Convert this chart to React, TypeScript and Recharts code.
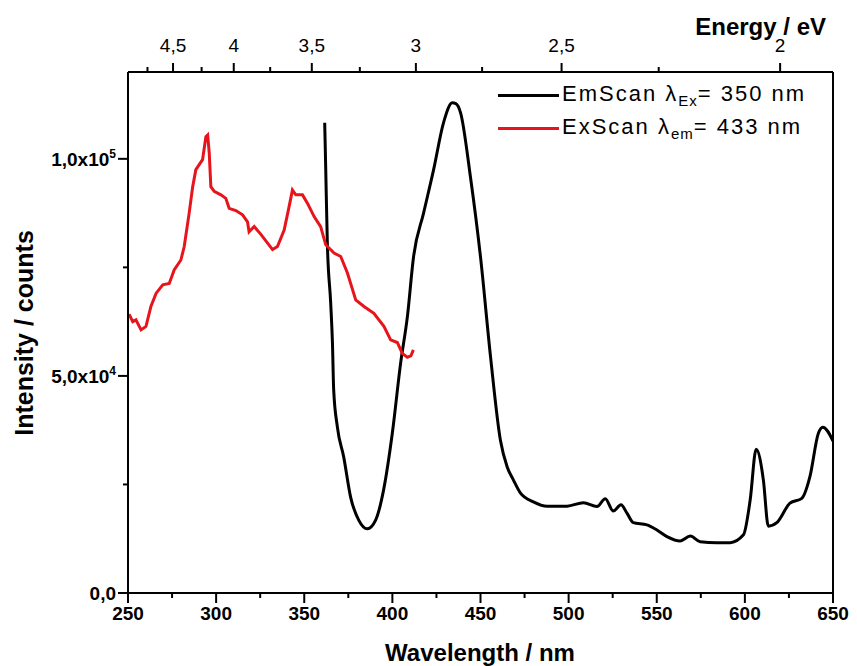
import React from 'react';
import { LineChart, Line, XAxis, YAxis, Legend, ReferenceLine } from 'recharts';

// emission scan (excitation 350 nm)
const emWavelength = [
  361.6, 361.9, 362.2, 363.1, 365.0, 366.0, 366.7, 368.8, 372.4, 376.3, 380.9, 385.8,
  390.5, 395.0, 400.0, 404.7, 408.5, 412.0, 417.7, 423.4, 429.0, 434.0, 436.0, 438.7,
  444.3, 450.0, 455.7, 461.3, 465.1, 468.7, 472.7, 480.0, 487.8, 499.1, 508.4, 516.1,
  520.8, 525.3, 529.7, 533.1, 536.7, 544.4, 550.1, 555.8, 563.3, 569.0, 574.6, 584.1,
  591.6, 599.2, 603.0, 606.4, 610.5, 613.3, 618.1, 625.6, 632.3, 636.9, 641.7, 644.2,
  650.2,
];
const emIntensity = [
  108300, 103000, 97400, 80600, 66800, 57600, 46800, 38200, 31300, 22100, 16800, 14800,
  16800, 23700, 36900, 53000, 63600, 77400, 87500, 97500, 108300, 112900, 112700, 110600,
  95800, 77400, 54400, 35200, 29100, 26000, 23000, 21000, 20000, 20000, 20800, 19900,
  21700, 18900, 20300, 18400, 16200, 15700, 14500, 13000, 12000, 13100, 11800, 11600,
  11600, 13400, 21400, 33100, 26000, 15400, 16200, 20700, 21800, 26800, 36800, 38200,
  34900,
];

// excitation scan (emission 433 nm)
const exWavelength = [
  250.6, 252.7, 254.5, 257.4, 260.2, 263.0, 265.9, 269.7, 273.4, 276.2, 280.0, 281.9,
  284.7, 286.7, 288.5, 292.3, 294.2, 295.2, 296.1, 297.0, 298.9, 302.7, 305.5, 307.4,
  311.2, 315.0, 317.8, 318.7, 321.6, 325.4, 329.2, 332.0, 334.8, 338.6, 341.4, 343.3,
  345.2, 349.0, 351.8, 355.6, 359.3, 362.2, 366.9, 370.7, 374.5, 379.2, 383.9, 389.5,
  395.2, 399.0, 402.8, 405.6, 408.5, 410.5, 411.9,
];
const exIntensity = [
  64200, 62500, 62900, 60600, 61400, 66000, 69000, 71000, 71300, 74400, 76700, 79800,
  87500, 93600, 97500, 99800, 105100, 105500, 101300, 93600, 92500, 91700, 90900, 88600,
  88100, 87100, 85500, 83200, 84400, 82600, 80600, 79100, 79800, 83600, 89000, 92800,
  91700, 91700, 89800, 86700, 84400, 80200, 78300, 77500, 73700, 67500, 66000, 64400,
  61400, 58300, 57700, 55200, 54300, 54600, 56000,
];

const xTicks = [250, 275, 300, 325, 350, 375, 400, 425, 450, 475, 500, 525, 550, 575, 600, 625, 650];
const yTicks = [0, 25000, 50000, 75000, 100000];
const energyTicks = [4.75, 4.5, 4.25, 4, 3.75, 3.5, 3.25, 3, 2.75, 2.5, 2.25, 2];
const energyLabels = [4.5, 4, 3.5, 3, 2.5, 2];

const emData = emWavelength.map((x, i) => ({ x, y: emIntensity[i] }));
const exData = exWavelength.map((x, i) => ({ x, y: exIntensity[i] }));

const FONT = '"Liberation Sans", Arial, sans-serif';

function BottomTick(props: any) {
  const { x, y, payload } = props;
  const major = payload.value % 50 === 0;
  return (
    <g>
      <line x1={x} y1={y} x2={x} y2={y + (major ? 10 : 5)} stroke="#000" strokeWidth={2} />
      {major && (
        <text x={x} y={y + 27} textAnchor="middle" fontFamily={FONT} fontWeight="bold" fontSize={19} fill="#000">
          {payload.value}
        </text>
      )}
    </g>
  );
}

function LeftTick(props: any) {
  const { x, y, payload } = props;
  const v = payload.value;
  const major = v % 50000 === 0;
  let label: React.ReactNode = null;
  if (v === 0) label = '0,0';
  else if (v === 50000) label = <>5,0x10<tspan dy={-8} fontSize={12}>4</tspan></>;
  else if (v === 100000) label = <>1,0x10<tspan dy={-8} fontSize={12}>5</tspan></>;
  return (
    <g>
      <line x1={x - (major ? 10 : 5)} y1={y} x2={x} y2={y} stroke="#000" strokeWidth={2} />
      {major && (
        <text x={x - 12} y={y + 7} textAnchor="end" fontFamily={FONT} fontWeight="bold" fontSize={19} fill="#000">
          {label}
        </text>
      )}
    </g>
  );
}

function TopTick(props: any) {
  const { x, y, payload } = props;
  const e = Math.round((1240 / payload.value) * 100) / 100;
  const major = energyLabels.includes(e);
  return (
    <g>
      <line x1={x} y1={y - (major ? 9 : 5)} x2={x} y2={y} stroke="#000" strokeWidth={2} />
      {major && (
        <text x={x} y={y - 20} textAnchor="middle" fontFamily={FONT} fontSize={19} fill="#000">
          {String(e).replace('.', ',')}
        </text>
      )}
    </g>
  );
}

function LegendBox() {
  const rows = [
    { color: '#000000', name: 'EmScan', sub: 'Ex', value: '350 nm' },
    { color: '#e8141c', name: 'ExScan', sub: 'em', value: '433 nm' },
  ];
  return (
    <div style={{ fontFamily: FONT, fontSize: 22, color: '#000' }}>
      {rows.map((r) => (
        <div key={r.name} style={{ display: 'flex', alignItems: 'center', height: 33 }}>
          <span style={{ display: 'inline-block', width: 61, height: 3, background: r.color, marginRight: 3 }} />
          <span style={{ letterSpacing: 2, whiteSpace: 'nowrap' }}>
            {r.name} λ<sub style={{ fontSize: 15, letterSpacing: 1 }}>{r.sub}</sub>= {r.value}
          </span>
        </div>
      ))}
    </div>
  );
}

export default function App() {
  return (
    <div style={{ position: 'absolute', left: 0, top: 0, width: 857, height: 666, background: '#fff' }}>
      <LineChart width={857} height={666} margin={{ top: 0, right: 24, bottom: 0, left: 0 }}>
        <XAxis
          dataKey="x"
          type="number"
          domain={[250, 650]}
          ticks={xTicks}
          interval={0}
          allowDataOverflow
          height={73}
          tickSize={0}
          tickMargin={0}
          tickLine={false}
          tick={<BottomTick />}
          axisLine={{ stroke: '#000', strokeWidth: 2 }}
        />
        <XAxis
          xAxisId="top"
          dataKey="x"
          orientation="top"
          type="number"
          domain={[250, 650]}
          ticks={energyTicks.map((e) => 1240 / e)}
          interval={0}
          allowDataOverflow
          height={72}
          tickSize={0}
          tickMargin={0}
          tickLine={false}
          tick={<TopTick />}
          axisLine={{ stroke: '#000', strokeWidth: 2 }}
        />
        <YAxis
          type="number"
          domain={[0, 120000]}
          ticks={yTicks}
          interval={0}
          allowDataOverflow
          width={128}
          tickSize={0}
          tickMargin={0}
          tickLine={false}
          tick={<LeftTick />}
          axisLine={{ stroke: '#000', strokeWidth: 2 }}
        />
        <ReferenceLine x={650} stroke="#000" strokeWidth={2} />
        <Line
          data={emData}
          dataKey="y"
          name="EmScan"
          type="monotone"
          stroke="#000000"
          strokeWidth={3}
          dot={false}
          isAnimationActive={false}
        />
        <Line
          data={exData}
          xAxisId="top"
          dataKey="y"
          name="ExScan"
          stroke="#e8141c"
          strokeWidth={3}
          dot={false}
          isAnimationActive={false}
        />
        <Legend
          layout="vertical"
          align="center"
          verticalAlign="middle"
          content={<LegendBox />}
          wrapperStyle={{ position: 'absolute', left: 498, top: 79, width: 340 }}
        />
      </LineChart>
      <svg width={857} height={666} style={{ position: 'absolute', left: 0, top: 0, pointerEvents: 'none' }}>
        <text x={826} y={35} textAnchor="end" fontFamily={FONT} fontWeight="bold" fontSize={24} fill="#000">
          Energy / eV
        </text>
        <text x={480} y={661} textAnchor="middle" fontFamily={FONT} fontWeight="bold" fontSize={24} fill="#000">
          Wavelength / nm
        </text>
        <text
          x={0}
          y={0}
          transform="translate(33,333) rotate(-90)"
          textAnchor="middle"
          fontFamily={FONT}
          fontWeight="bold"
          fontSize={25}
          fill="#000"
        >
          Intensity / counts
        </text>
      </svg>
    </div>
  );
}
